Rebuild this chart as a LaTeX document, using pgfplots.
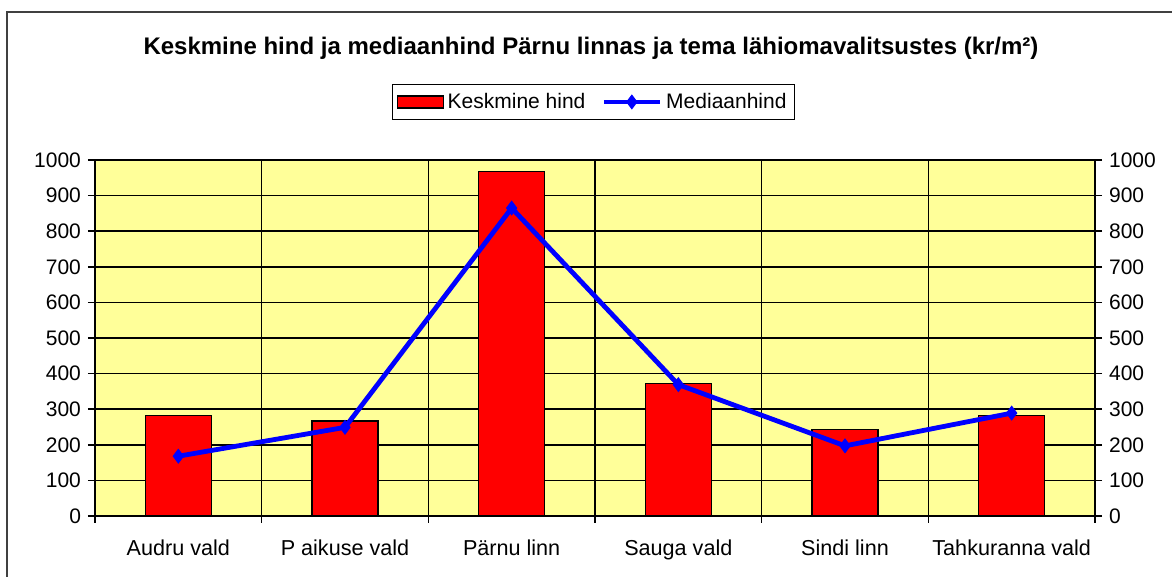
\documentclass[border=0pt]{standalone}
\usepackage{fontspec}
\setmainfont{Liberation Sans}
\usepackage{pgfplots}
\pgfplotsset{compat=1.18}
\definecolor{xlyellow}{RGB}{255,255,153}
\definecolor{xlred}{RGB}{255,0,0}
\definecolor{xlblue}{RGB}{0,0,255}
\pgfplotsset{
  barlegend/.style={legend image code/.code={\draw[fill=xlred, draw=black, line width=0.6pt] (0pt,-3pt) rectangle (23pt,3pt);}},
  linelegend/.style={legend image code/.code={\draw[##1, mark repeat=2, mark phase=2] plot coordinates {(0pt,0pt) (14pt,0pt) (28pt,0pt)};}},
}
\begin{document}
\begin{tikzpicture}
\path[use as bounding box] (0,0) rectangle (586pt,288.5pt);
\draw[line width=0.8pt, black!75] (3.5pt,0) -- (3.5pt,282.5pt) -- (586pt,282.5pt);
\node[anchor=base, font=\fontsize{12}{14}\selectfont\bfseries] at (295.5pt,261pt)
  {Keskmine hind ja mediaanhind Pärnu linnas ja tema lähiomavalitsustes (kr/m²)};
\begin{axis}[
  scale only axis, width=500pt, height=178pt,
  at={(47.5pt,30.5pt)}, anchor=south west,
  xmin=-0.5, xmax=5.5, ymin=0, ymax=1000,
  axis background/.style={fill=xlyellow},
  axis line style={black, line width=0.75pt},
  xtick={-0.5,0.5,...,5.5}, xticklabels={},
  extra x ticks={0,1,2,3,4,5},
  extra x tick labels={Audru vald, P aikuse vald, Pärnu linn, Sauga vald, Sindi linn, Tahkuranna vald},
  extra x tick style={grid=none, major tick length=0pt, tick label style={yshift=-8.5pt, font=\fontsize{10.8}{12}\selectfont}},
  ytick={0,100,...,1000},
  ytick pos=both, yticklabel pos=left,
  xtick pos=bottom,
  tick align=outside, major tick length=3.5pt,
  tick style={black, line width=0.75pt},
  grid=major, major grid style={black, line width=0.75pt},
  /pgf/number format/assume math mode=true,
  /pgf/number format/1000 sep={},
  tick label style={font=\fontsize{10.5}{12}\selectfont},
  legend columns=2,
  legend style={at={(0.4985,1.163)}, anchor=center, draw=black, line width=0.5pt,
    font=\fontsize{10.5}{12}\selectfont, inner xsep=2pt, inner ysep=2pt,
    /tikz/every even column/.append style={column sep=6pt}},
]
\addplot[ybar, bar width=33pt, fill=xlred, draw=black, line width=0.6pt, barlegend]
  coordinates {(0,282) (1,267) (2,968) (3,372) (4,244) (5,283)};
\addlegendentry{Keskmine hind}
\addplot[xlblue, line width=2.4pt, mark=diamond*, mark size=3.4pt, mark options={fill=xlblue, draw=xlblue, line width=0.5pt}, linelegend]
  coordinates {(0,168) (1,249) (2,865) (3,369) (4,197) (5,289)};
\addlegendentry{Mediaanhind}
\end{axis}
\begin{axis}[
  scale only axis, width=500pt, height=178pt,
  at={(47.5pt,30.5pt)}, anchor=south west,
  xmin=-0.5, xmax=5.5, ymin=0, ymax=1000,
  hide x axis, axis line style={draw=none},
  ytick={0,100,...,1000}, yticklabel pos=right, ytick pos=right,
  tick align=outside, major tick length=3.5pt, tick style={draw=none},
  /pgf/number format/assume math mode=true,
  /pgf/number format/1000 sep={},
  tick label style={font=\fontsize{10.5}{12}\selectfont},
]
\end{axis}
\end{tikzpicture}
\end{document}
